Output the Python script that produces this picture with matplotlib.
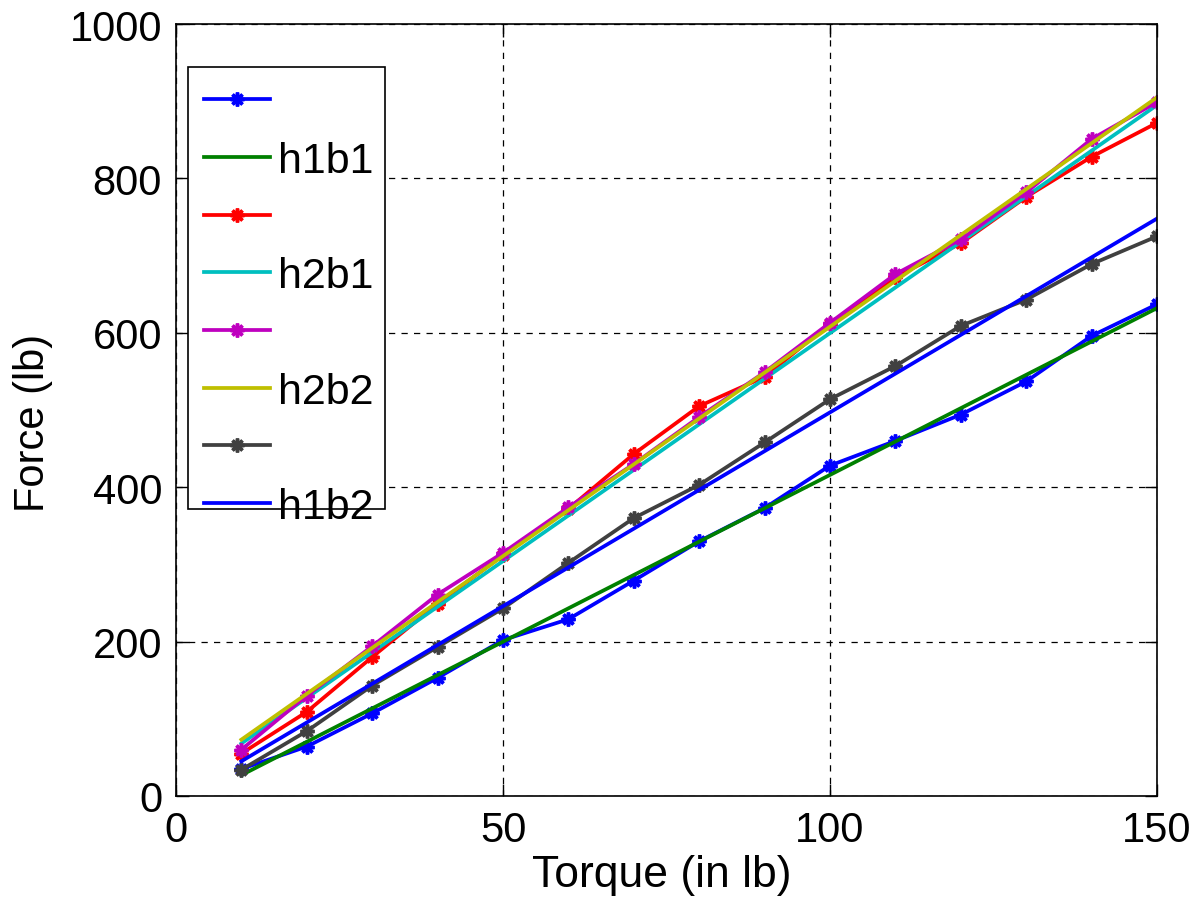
import numpy as np
import matplotlib
matplotlib.use("Agg")
import matplotlib.pyplot as plt
from matplotlib.patches import Rectangle

plt.rcParams['font.family'] = ['Liberation Sans', 'DejaVu Sans']

# torque values (in lb)
torque = [10, 20, 30, 40, 50, 60, 70, 80, 90, 100, 110, 120, 130, 140, 150]

# measured forces (marker series)
h1b1_meas = [35, 64, 107, 153, 202, 229, 279, 330, 373, 428, 460, 494, 537, 596, 637]
h2b1_meas = [55, 109, 180, 249, 312, 372, 443, 505, 543, 612, 672, 716, 776, 828, 872]
h2b2_meas = [60, 130, 194, 261, 315, 374, 430, 491, 549, 613, 676, 721, 782, 851, 899]
h1b2_meas = [34, 84, 143, 193, 243, 302, 360, 403, 458, 514, 557, 609, 643, 689, 725]

# fitted lines (end points)
fit_x = [10, 150]
h1b1_fit = [27, 632]
h2b1_fit = [68, 895]
h2b2_fit = [73, 905]
h1b2_fit = [45, 748]

blue = (0, 0, 1)
green = (0, 0.5, 0)
red = (1, 0, 0)
cyan = (0, 0.75, 0.75)
magenta = (0.75, 0, 0.75)
yellow = (0.75, 0.75, 0)
gray = (0.25, 0.25, 0.25)

fig = plt.figure(figsize=(12.02, 9.03), dpi=100)
ax = fig.add_axes([0.1464, 0.1174, 0.8162, 0.8549])

lw = 2.7
mk = dict(marker=(8, 2, 0), ms=10, mew=2.5)
ax.plot(torque, h1b1_meas, color=blue, lw=lw, label=' ', **mk)
ax.plot(fit_x, h1b1_fit, color=green, lw=lw, label='h1b1')
ax.plot(torque, h2b1_meas, color=red, lw=lw, label=' ', **mk)
ax.plot(fit_x, h2b1_fit, color=cyan, lw=lw, label='h2b1')
ax.plot(torque, h2b2_meas, color=magenta, lw=lw, label=' ', **mk)
ax.plot(fit_x, h2b2_fit, color=yellow, lw=lw, label='h2b2')
ax.plot(torque, h1b2_meas, color=gray, lw=lw, label=' ', **mk)
ax.plot(fit_x, h1b2_fit, color=blue, lw=lw, label='h1b2')

ax.set_xlim(0, 150)
ax.set_ylim(0, 1000)
ax.set_xticks([0, 50, 100, 150])
ax.set_yticks([0, 200, 400, 600, 800, 1000])
ax.grid(True, color='black', linestyle=(0, (5, 5)), linewidth=0.9)
ax.tick_params(direction='in', length=9, width=1, labelsize=30, top=True, right=True, pad=10)
for s in ax.spines.values():
    s.set_linewidth(1.2)

ax.set_xlabel('Torque (in lb)', fontsize=32, va='top')
ax.xaxis.set_label_coords(0.495, -0.075)
ax.set_ylabel('Force (lb)', fontsize=30)
ax.yaxis.set_label_coords(-0.125, 0.484)

# legend box (the last entry overflows the frame, as in the original)
box = Rectangle((0.0122, 0.3718), 0.2009, 0.5725, transform=ax.transAxes,
                facecolor='white', edgecolor='black', linewidth=1.2, zorder=4.5)
ax.add_patch(box)
leg = ax.legend(loc='upper left', bbox_to_anchor=(0.0122, 0.9443), fontsize=31, frameon=False,
                handlelength=1.53, handletextpad=0.19, labelspacing=0.41,
                borderpad=0.38, borderaxespad=0)
leg.set_zorder(5)

fig.savefig('out.png', dpi=100)
